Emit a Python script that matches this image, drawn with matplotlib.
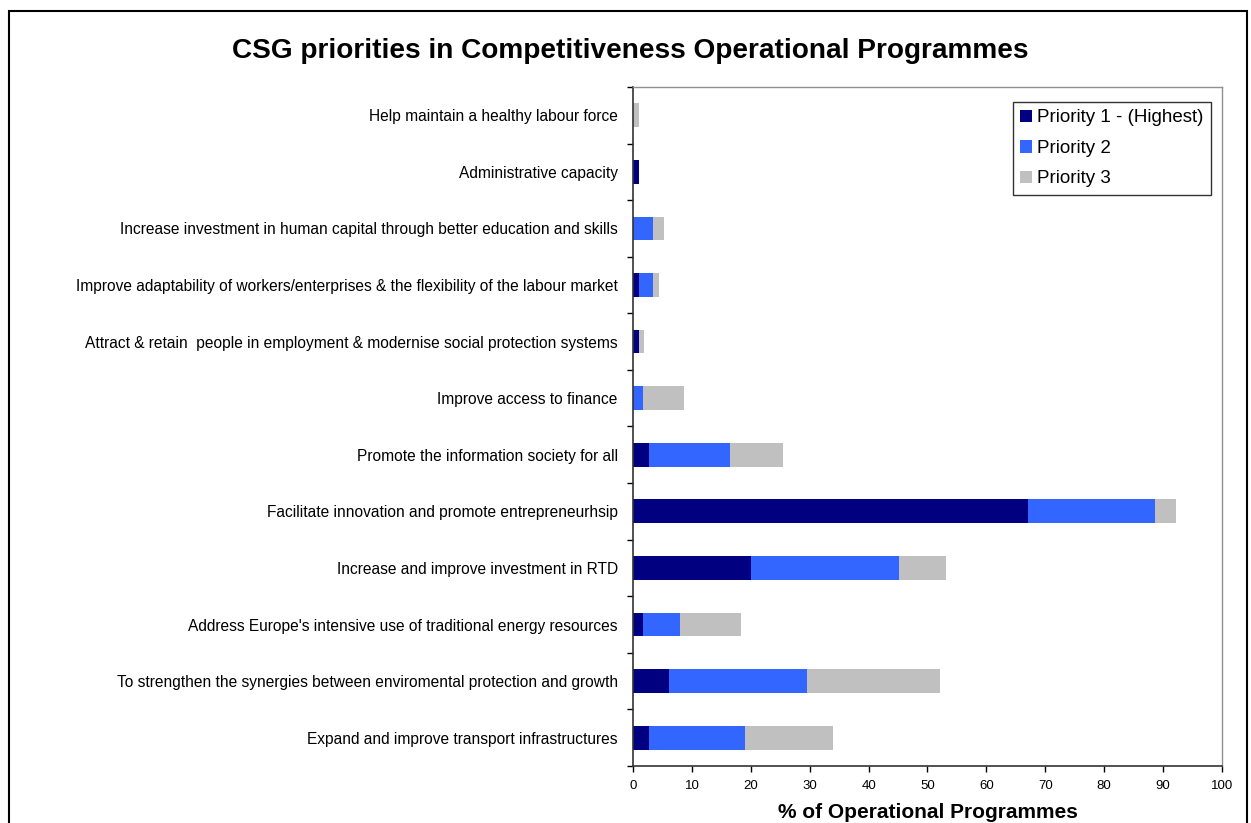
import matplotlib.pyplot as plt
import matplotlib.patches as mpatches
import numpy as np

categories = [
    "Help maintain a healthy labour force",
    "Administrative capacity",
    "Increase investment in human capital through better education and skills",
    "Improve adaptability of workers/enterprises & the flexibility of the labour market",
    "Attract & retain  people in employment & modernise social protection systems",
    "Improve access to finance",
    "Promote the information society for all",
    "Facilitate innovation and promote entrepreneurhsip",
    "Increase and improve investment in RTD",
    "Address Europe's intensive use of traditional energy resources",
    "To strengthen the synergies between enviromental protection and growth",
    "Expand and improve transport infrastructures",
]

# share of programmes (%) per priority level
priority1 = [0.0, 1.0, 0.0, 1.0, 1.0, 0.0, 2.7, 67.0, 20.0, 1.7, 6.1, 2.7]
priority2 = [0.0, 0.0, 3.4, 2.4, 0.0, 1.7, 13.7, 21.7, 25.2, 6.3, 23.4, 16.4]
priority3 = [1.0, 0.0, 1.9, 1.0, 0.85, 6.95, 9.0, 3.5, 7.9, 10.3, 22.6, 14.9]

series_names = ["Priority 1 - (Highest)", "Priority 2", "Priority 3"]
series_colors = ["#000080", "#3366FF", "#C0C0C0"]

plt.rcParams["font.family"] = ["Liberation Sans", "DejaVu Sans"]

fig = plt.figure(figsize=(12.51, 8.23), dpi=100)
ax = fig.add_axes([0.506, 0.0693, 0.4708, 0.825])

n = len(categories)
y = np.arange(n)
left = np.zeros(n)
for vals, name, col in zip([priority1, priority2, priority3], series_names, series_colors):
    vals = np.array(vals)
    ax.barh(y, vals, left=left, height=0.42, color=col, label=name, linewidth=0)
    left += vals

ax.set_ylim(n - 0.5, -0.5)
ax.set_xlim(0, 100)

# category labels at bar centres, tick marks at category boundaries
ax.set_yticks(y)
ax.set_yticklabels(categories, fontsize=11.2)
ax.tick_params(axis="y", which="major", length=0, pad=11)
ax.set_yticks(np.arange(n + 1) - 0.5, minor=True)
ax.tick_params(axis="y", which="minor", length=4.5, width=1, direction="out")

ax.set_xticks(np.arange(0, 101, 10))
ax.set_xticklabels([str(v) for v in range(0, 101, 10)], fontsize=9.5)
ax.tick_params(axis="x", length=4, width=1, direction="out", pad=6)

for side in ["top", "right"]:
    ax.spines[side].set_color("#909090")
    ax.spines[side].set_linewidth(1)
for side in ["left", "bottom"]:
    ax.spines[side].set_color("#333333")
    ax.spines[side].set_linewidth(1.2)

ax.set_xlabel("% of Operational Programmes", fontsize=15, fontweight="bold", labelpad=8)

fig.text(0.5036, 0.938, "CSG priorities in Competitiveness Operational Programmes",
         ha="center", va="center", fontsize=20.2, fontweight="bold")

leg = ax.legend(loc="upper right", bbox_to_anchor=(0.981, 0.978), fontsize=13.5,
                frameon=True, fancybox=False, edgecolor="black",
                handlelength=0.65, handleheight=0.65, handletextpad=0.25,
                labelspacing=0.72, borderpad=0.4, borderaxespad=0)
leg.get_frame().set_linewidth(1)

# outer chart frame
frame = mpatches.Rectangle((9 / 1251, -0.05), (1247 - 9) / 1251, 1.05 - 11 / 823,
                           transform=fig.transFigure, fill=False,
                           edgecolor="black", linewidth=1.5, clip_on=False)
fig.patches.append(frame)

fig.savefig("out.png", dpi=100)
